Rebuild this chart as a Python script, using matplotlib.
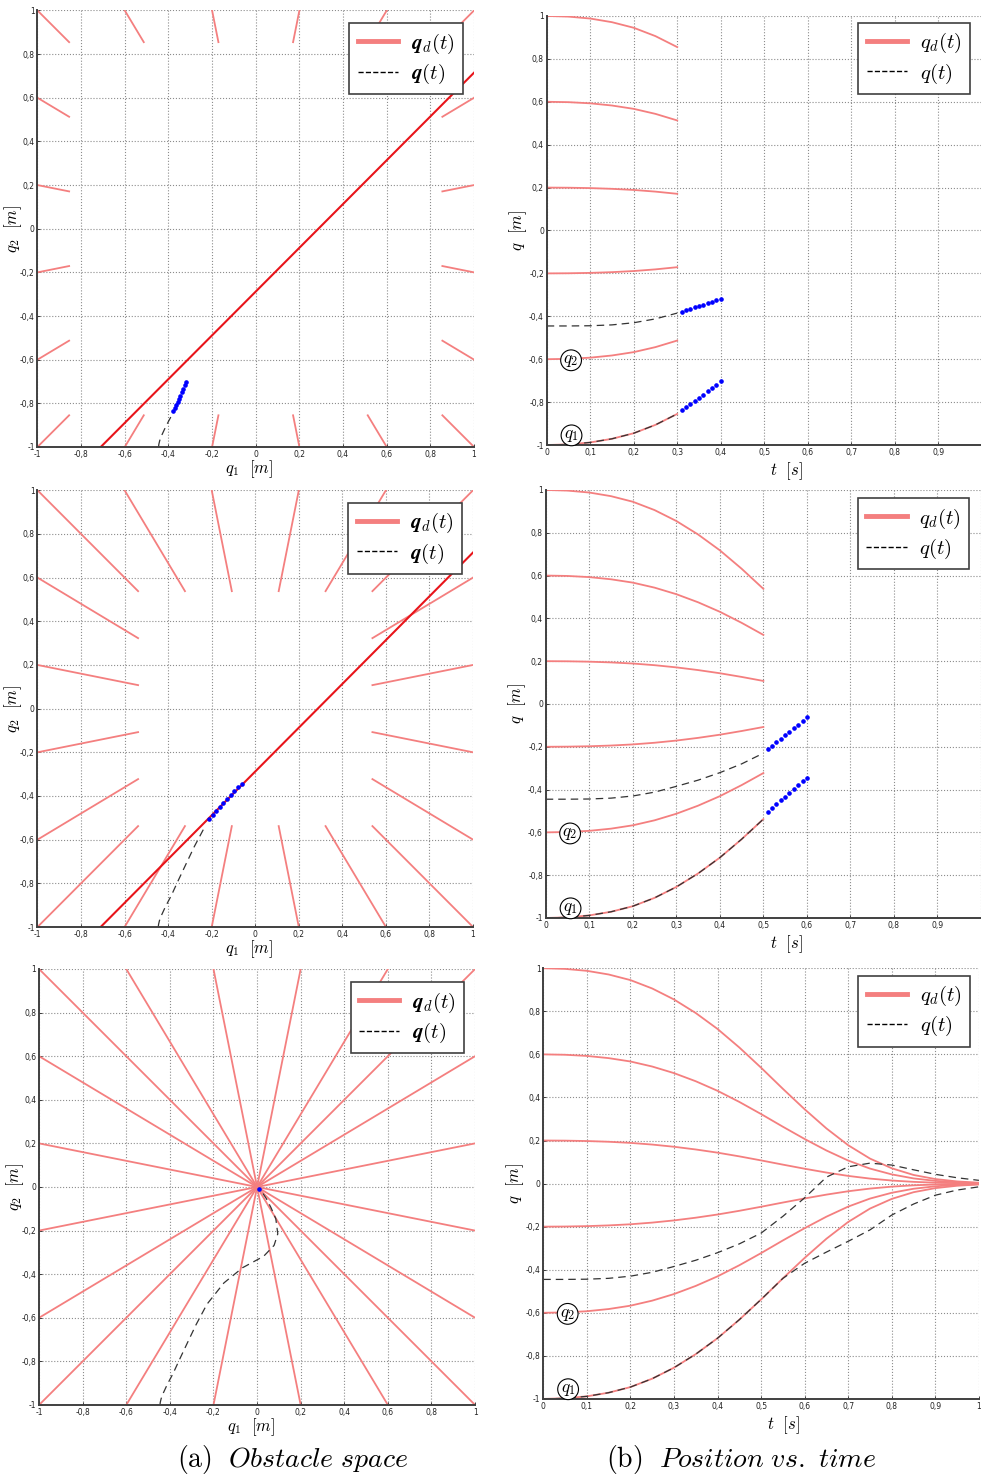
import numpy as np
import matplotlib
matplotlib.use("Agg")
import matplotlib.pyplot as plt
from matplotlib.lines import Line2D
from matplotlib.ticker import FuncFormatter, MultipleLocator

plt.rcParams["mathtext.fontset"] = "cm"

# time samples of the trajectories [s]
t_s = [0.00, 0.05, 0.10, 0.15, 0.20, 0.25, 0.30, 0.35, 0.40, 0.45, 0.50,
       0.55, 0.60, 0.65, 0.70, 0.75, 0.80, 0.85, 0.90, 0.95, 1.00]

# shape of the desired motion toward the goal (fraction of the start offset)
s_prof = [1.000, 0.997, 0.988, 0.971, 0.945, 0.906, 0.855, 0.792, 0.718, 0.632, 0.538,
          0.440, 0.345, 0.256, 0.178, 0.116, 0.071, 0.040, 0.021, 0.010, 0.004]

# start points of the desired trajectories on the workspace border
start_q1 = [-1.0, -0.6, -0.2, 0.2, 0.6, 1.0, 1.0, 1.0, 1.0, 1.0,
            1.0, 0.6, 0.2, -0.2, -0.6, -1.0, -1.0, -1.0, -1.0, -1.0]
start_q2 = [1.0, 1.0, 1.0, 1.0, 1.0, 1.0, 0.6, 0.2, -0.2, -0.6,
            -1.0, -1.0, -1.0, -1.0, -1.0, -1.0, -0.6, -0.2, 0.2, 0.6]

# measured robot position
q1_act = [-0.445, -0.445, -0.444, -0.440, -0.430, -0.412, -0.385, -0.356, -0.321, -0.280, -0.230,
          -0.152, -0.066, 0.030, 0.078, 0.095, 0.086, 0.064, 0.043, 0.027, 0.015]
q2_act = [-1.000, -0.997, -0.988, -0.971, -0.945, -0.906, -0.855, -0.792, -0.718, -0.632, -0.538,
          -0.440, -0.370, -0.318, -0.268, -0.215, -0.146, -0.095, -0.054, -0.030, -0.015]

# obstacle boundary line
obst_q1 = [-0.71, 1.0]
obst_q2 = [-1.0, 0.715]

# predicted positions (blue dots) at the three snapshots
pred_t_a = [0.31, 0.32, 0.33, 0.34, 0.35, 0.36, 0.37, 0.38, 0.39, 0.40]
pred_q1_a = [-0.378, -0.372, -0.365, -0.358, -0.351, -0.345, -0.338, -0.331, -0.325, -0.318]
pred_q2_a = [-0.835, -0.822, -0.808, -0.794, -0.780, -0.765, -0.750, -0.734, -0.718, -0.702]

pred_t_b = [0.51, 0.52, 0.53, 0.54, 0.55, 0.56, 0.57, 0.58, 0.59, 0.60]
pred_q1_b = [-0.212, -0.196, -0.179, -0.163, -0.146, -0.129, -0.113, -0.096, -0.079, -0.062]
pred_q2_b = [-0.505, -0.487, -0.469, -0.451, -0.433, -0.415, -0.397, -0.379, -0.361, -0.344]

pred_t_c = [1.0]
pred_q1_c = [0.008]
pred_q2_c = [-0.008]

# snapshot times (index into t_s)
snap_idx = [6, 10, 20]

PINK = "#f47f7f"
RED = "#e8141a"
GRID = "#8c8c8c"
DASH = (0, (6, 4))

fig = plt.figure(figsize=(9.81, 14.78), dpi=100)

left_pos = [[0.0382, 0.6976, 0.4450, 0.2953],
            [0.0382, 0.3728, 0.4440, 0.2955],
            [0.0398, 0.0494, 0.4445, 0.2950]]
right_pos = [[0.5573, 0.6989, 0.4434, 0.2903],
             [0.5563, 0.3789, 0.4437, 0.2896],
             [0.5538, 0.0535, 0.4441, 0.2914]]
leg_anchor_l = [(0.975, 0.971), (0.975, 0.971), (0.975, 0.970)]
leg_anchor_r = [(0.973, 0.984), (0.973, 0.981), (0.979, 0.983)]

preds = [(pred_t_a, pred_q1_a, pred_q2_a),
         (pred_t_b, pred_q1_b, pred_q2_b),
         (pred_t_c, pred_q1_c, pred_q2_c)]
show_obst = [True, True, False]


def comma_fmt(v, _):
    return ("%g" % round(v, 2)).replace(".", ",")


def comma_fmt_no_end(v, _):
    # the last tick sits on the figure border, leave it unlabeled
    if v > 0.999:
        return ""
    return comma_fmt(v, _)


def style_axes(ax):
    ax.grid(True, linestyle=":", color=GRID, linewidth=0.8)
    ax.set_axisbelow(True)
    for side in ("top", "right"):
        ax.spines[side].set_visible(False)
    for side in ("left", "bottom"):
        ax.spines[side].set_color("#404040")
        ax.spines[side].set_linewidth(1.4)
    ax.tick_params(direction="in", length=2, width=0.6, labelsize=5.5,
                   colors="#222222", pad=2)
    ax.xaxis.set_major_formatter(FuncFormatter(comma_fmt))
    ax.yaxis.set_major_formatter(FuncFormatter(comma_fmt))


def add_legend(ax, labels, anchor):
    handles = [Line2D([], [], color=PINK, lw=3.5),
               Line2D([], [], color="black", lw=1.0, ls="--")]
    leg = ax.legend(handles, labels, loc="upper right", bbox_to_anchor=anchor,
                    borderaxespad=0, fancybox=False, framealpha=1,
                    edgecolor="#404040", fontsize=15, handlelength=1.95,
                    borderpad=0.4, labelspacing=0.3, handletextpad=0.6)
    leg.get_frame().set_linewidth(1.2)


s = np.array(s_prof)
t = np.array(t_s)
levels = np.unique(start_q1 + start_q2)

for row in range(3):
    k = snap_idx[row] + 1
    pt, pq1, pq2 = preds[row]

    # obstacle space
    ax = fig.add_axes(left_pos[row])
    for x0, y0 in zip(start_q1, start_q2):
        ax.plot(x0 * s[:k], y0 * s[:k], color=PINK, lw=1.3)
    if show_obst[row]:
        ax.plot(obst_q1, obst_q2, color=RED, lw=1.5)
    ax.plot(q1_act[:k], q2_act[:k], color="#333333", lw=0.9, ls=DASH)
    ax.plot(pq1, pq2, ls="none", marker="o", ms=2.3, color="blue")
    ax.set_xlim(-1, 1)
    ax.set_ylim(-1, 1)
    ax.xaxis.set_major_locator(MultipleLocator(0.2))
    ax.yaxis.set_major_locator(MultipleLocator(0.2))
    style_axes(ax)
    ax.set_xlabel(r"$q_1\ \ [m]$", fontsize=12)
    ax.xaxis.set_label_coords(0.485, -0.025)
    ax.set_ylabel(r"$q_2\ \ [m]$", fontsize=12)
    ax.yaxis.set_label_coords(-0.03, 0.5)
    add_legend(ax, [r"$\boldsymbol{q}_d(t)$", r"$\boldsymbol{q}(t)$"], leg_anchor_l[row])

    # position vs. time
    ax = fig.add_axes(right_pos[row])
    for lv in levels:
        ax.plot(t[:k], lv * s[:k], color=PINK, lw=1.3)
    ax.plot(t[:k], q2_act[:k], color="#333333", lw=0.9, ls=DASH)
    ax.plot(t[:k], q1_act[:k], color="#333333", lw=0.9, ls=DASH)
    if row < 2:
        ax.plot(pt, pq1, ls="none", marker="o", ms=2.3, color="blue")
        ax.plot(pt, pq2, ls="none", marker="o", ms=2.3, color="blue")
    ax.set_xlim(0, 1)
    ax.set_ylim(-1, 1)
    ax.xaxis.set_major_locator(MultipleLocator(0.1))
    ax.yaxis.set_major_locator(MultipleLocator(0.2))
    style_axes(ax)
    if row < 2:
        ax.xaxis.set_major_formatter(FuncFormatter(comma_fmt_no_end))
    ax.set_xlabel(r"$t\ \ [s]$", fontsize=12)
    ax.xaxis.set_label_coords(0.552, -0.035)
    ax.set_ylabel(r"$q\ \ [m]$", fontsize=12)
    ax.yaxis.set_label_coords(-0.04, 0.5)
    add_legend(ax, [r"$q_d(t)$", r"$q(t)$"], leg_anchor_r[row])
    circ = dict(boxstyle="circle,pad=0.08", fc="white", ec="black", lw=0.8)
    ax.text(0.056, -0.605, r"$q_2$", fontsize=12.5, ha="center", va="center", bbox=circ)
    ax.text(0.057, -0.955, r"$q_1$", fontsize=12.5, ha="center", va="center", bbox=circ)

fig.text(0.298, 0.0075, r"$\mathrm{(a)}\ \ \mathit{Obstacle\ space}$",
         fontsize=20, ha="center", va="baseline")
fig.text(0.755, 0.0075, r"$\mathrm{(b)}\ \ \mathit{Position\ vs.\ time}$",
         fontsize=20, ha="center", va="baseline")

fig.savefig("out.png", dpi=100)
